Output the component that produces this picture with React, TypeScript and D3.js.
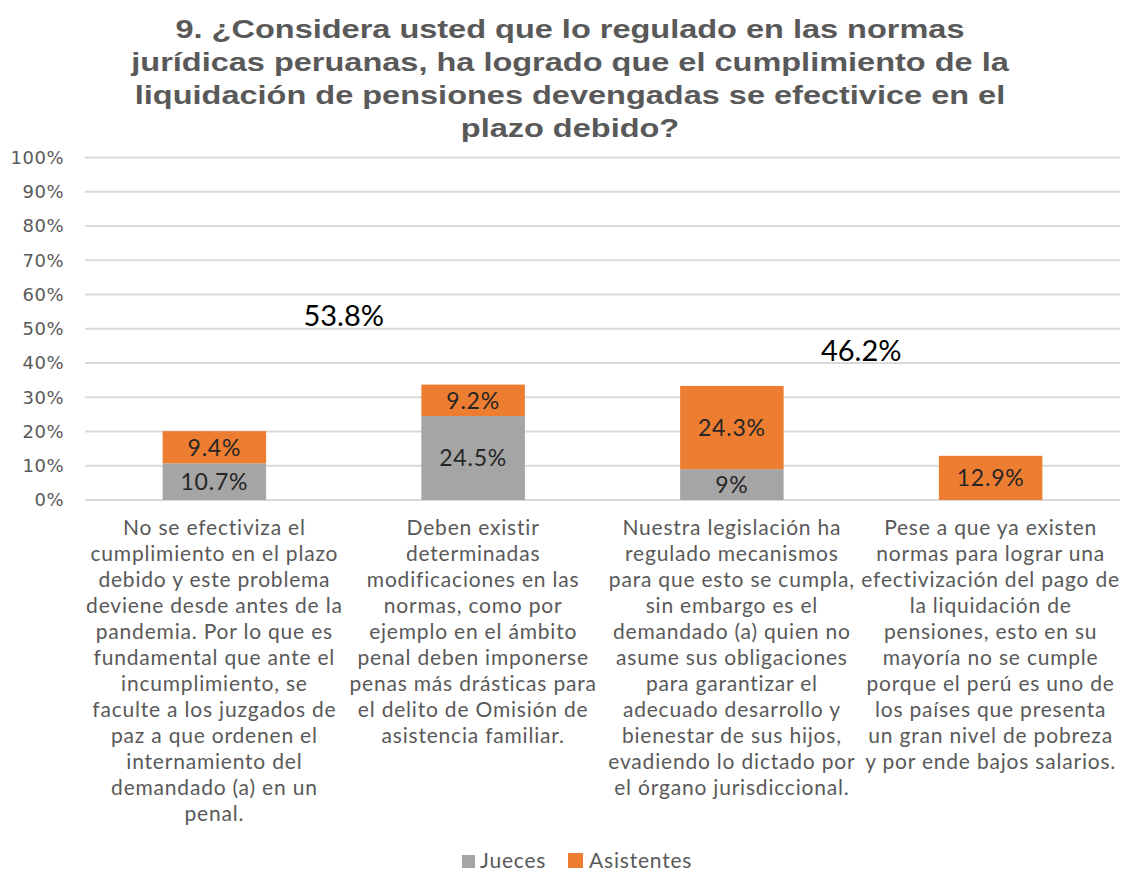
import * as d3 from 'd3';

const categories = ['c1', 'c2', 'c3', 'c4'];

const categoryLines = [
  [
    'No se efectiviza el',
    'cumplimiento en el plazo',
    'debido y este problema',
    'deviene desde antes de la',
    'pandemia. Por lo que es',
    'fundamental que ante el',
    'incumplimiento, se',
    'faculte a los juzgados de',
    'paz a que  ordenen el',
    'internamiento del',
    'demandado (a) en un',
    'penal.',
  ],
  [
    'Deben existir',
    'determinadas',
    'modificaciones en las',
    'normas, como por',
    'ejemplo en el ámbito',
    'penal deben imponerse',
    'penas más drásticas para',
    'el delito de Omisión de',
    'asistencia familiar.',
  ],
  [
    'Nuestra legislación ha',
    'regulado mecanismos',
    'para que esto se cumpla,',
    'sin embargo es el',
    'demandado (a) quien no',
    'asume sus obligaciones',
    'para garantizar el',
    'adecuado desarrollo y',
    'bienestar de sus hijos,',
    'evadiendo lo dictado por',
    'el órgano jurisdiccional.',
  ],
  [
    'Pese a que ya existen',
    'normas para lograr una',
    'efectivización del pago de',
    'la liquidación de',
    'pensiones, esto en su',
    'mayoría no se cumple',
    'porque el perú es uno de',
    'los países que presenta',
    'un gran nivel de pobreza',
    'y por ende bajos salarios.',
  ],
];

const jueces = [10.7, 24.5, 9, 0];
const asistentes = [9.4, 9.2, 24.3, 12.9];
const juecesLabels = ['10.7%', '24.5%', '9%', ''];
const asistentesLabels = ['9.4%', '9.2%', '24.3%', '12.9%'];

const seriesNames = ['Jueces', 'Asistentes'];
const seriesColors = ['#A5A5A5', '#ED7D31'];

const yTicks = [0, 10, 20, 30, 40, 50, 60, 70, 80, 90, 100];

// floating totals placed between the category pairs
const annotations = [
  { text: '53.8%', after: 0, value: 53.8 },
  { text: '46.2%', after: 2, value: 43.5 },
];

const titleLines = [
  '9. ¿Considera usted que lo regulado en las normas',
  'jurídicas peruanas, ha logrado que el cumplimiento de la',
  'liquidación de pensiones devengadas se efectivice en el',
  'plazo debido?',
];

export default function App() {
  const width = 1125;
  const height = 872;
  const plot = { left: 85, right: 1120, top: 157.5, bottom: 500 };

  const x = d3
    .scaleBand()
    .domain(categories)
    .range([plot.left, plot.right])
    .paddingInner(0.6)
    .paddingOuter(0.3);

  const y = d3.scaleLinear().domain([0, 100]).range([plot.bottom, plot.top]);

  const step = x.step();
  const center = (i: number) => (x(categories[i]) || 0) + x.bandwidth() / 2;

  const labelFont = 'Lato, "Open Sans", sans-serif';

  return (
    <svg
      width={width}
      height={height}
      style={{ position: 'absolute', left: 0, top: 0, background: '#fff' }}
    >
      {/* title is stretched wide in the original */}
      <g
        transform="translate(570,0) scale(1.25,1)"
        fill="#595959"
        fontFamily='"Liberation Sans", Arial, sans-serif'
        fontWeight="bold"
        fontSize={26}
        textAnchor="middle"
      >
        {titleLines.map((t, i) => (
          <text key={i} x={0} y={38 + i * 33}>
            {t}
          </text>
        ))}
      </g>

      {yTicks.map(t => (
        <g key={t}>
          <line x1={plot.left} x2={plot.right} y1={y(t)} y2={y(t)} stroke="#D9D9D9" strokeWidth={2} />
          <text
            x={64}
            y={y(t)}
            dy="0.36em"
            textAnchor="end"
            fill="#595959"
            fontFamily='"DejaVu Sans", sans-serif'
            fontSize={18}
            letterSpacing={0.5}
          >
            {t}%
          </text>
        </g>
      ))}

      {categories.map((c, i) => {
        const bx = x(c) || 0;
        const bw = x.bandwidth();
        const j = jueces[i];
        const a = asistentes[i];
        return (
          <g key={c}>
            {j > 0 && (
              <rect x={bx} y={y(j)} width={bw} height={y(0) - y(j)} fill={seriesColors[0]} />
            )}
            <rect x={bx} y={y(j + a)} width={bw} height={y(j) - y(j + a)} fill={seriesColors[1]} />
            {juecesLabels[i] && (
              <text
                x={bx + bw / 2}
                y={(y(0) + y(j)) / 2}
                dy="0.36em"
                textAnchor="middle"
                fill="#262626"
                fontFamily={labelFont}
                fontSize={23}
                letterSpacing={0.8}
              >
                {juecesLabels[i]}
              </text>
            )}
            <text
              x={bx + bw / 2}
              y={(y(j) + y(j + a)) / 2}
              dy="0.36em"
              textAnchor="middle"
              fill="#262626"
              fontFamily={labelFont}
              fontSize={23}
              letterSpacing={0.8}
            >
              {asistentesLabels[i]}
            </text>
          </g>
        );
      })}

      {annotations.map(d => (
        <text
          key={d.text}
          x={center(d.after) + step / 2}
          y={y(d.value)}
          dy="0.36em"
          textAnchor="middle"
          fill="#000"
          fontFamily={labelFont}
          fontSize={29}
        >
          {d.text}
        </text>
      ))}

      {categoryLines.map((lines, i) => (
        <text
          key={i}
          textAnchor="middle"
          fill="#595959"
          fontFamily={labelFont}
          fontSize={21}
          letterSpacing={0.8}
        >
          {lines.map((l, k) => (
            <tspan key={k} x={center(i)} y={535 + k * 26}>
              {l}
            </tspan>
          ))}
        </text>
      ))}

      <g fontFamily={labelFont} fontSize={21} fill="#595959" letterSpacing={0.8}>
        <rect x={462} y={855} width={13} height={13} fill={seriesColors[0]} />
        <text x={480} y={868}>{seriesNames[0]}</text>
        <rect x={568} y={853} width={15} height={15} fill={seriesColors[1]} />
        <text x={589} y={868}>{seriesNames[1]}</text>
      </g>
    </svg>
  );
}
